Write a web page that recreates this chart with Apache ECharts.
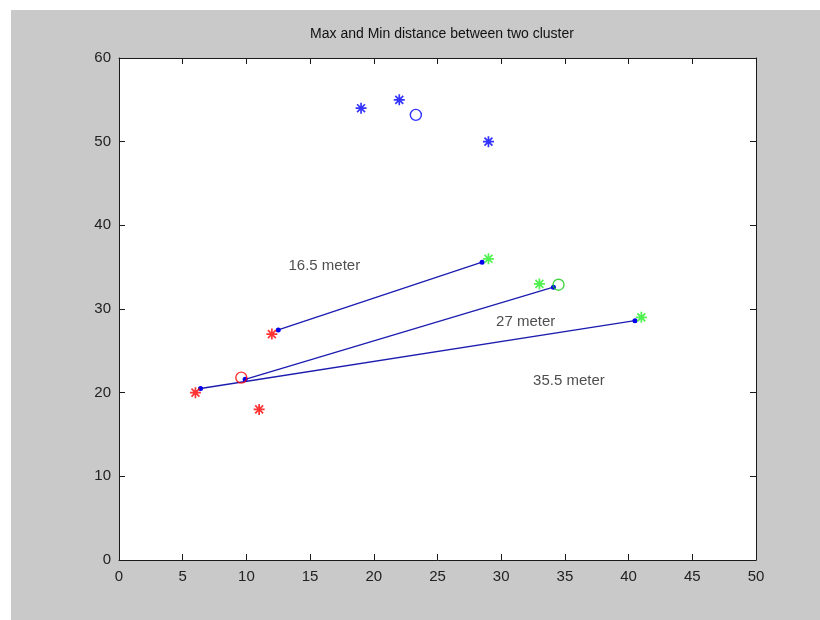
<!DOCTYPE html>
<html>
<head>
<meta charset="utf-8">
<script src="https://cdn.jsdelivr.net/npm/echarts@6/dist/echarts.min.js"></script>
<style>
  html, body { margin: 0; padding: 0; background: #ffffff; }
  #main { width: 820px; height: 620px; }
</style>
</head>
<body>
<div id="main"></div>
<script>
// cluster points
var blueStars = [[19, 54], [22, 55], [29, 50]];
var blueCentre = [[23.3, 53.2]];
var redStars = [[6, 20], [12, 27], [11, 18]];
var redCentre = [[9.6, 21.8]];
var greenStars = [[29, 36], [33, 33], [41, 29]];
var greenCentre = [[34.5, 32.9]];

// distance segments
var seg1 = [[12.5, 27.5], [28.5, 35.6]];
var seg2 = [[9.9, 21.6], [34.1, 32.6]];
var seg3 = [[6.4, 20.5], [40.5, 28.6]];

// text labels
var notes = [
  { value: [13.3, 35.1], text: '16.5 meter' },
  { value: [29.6, 28.5], text: '27 meter' },
  { value: [32.5, 21.4], text: '35.5 meter' }
];

var xTicks = [0, 50, 5];
var yTicks = [0, 60, 10];

var star = 'path://M0,-5L0,5M-5,0L5,0M-3.6,-3.6L3.6,3.6M-3.6,3.6L3.6,-3.6';
var fontFam = 'Liberation Sans, Arial, sans-serif';

var chart = echarts.init(document.getElementById('main'));

function starSeries(data, col) {
  return {
    type: 'scatter', data: data, symbol: star, symbolSize: 11,
    itemStyle: { color: 'transparent', borderColor: col, borderWidth: 1.7 },
    z: 5
  };
}
function ringSeries(data, col) {
  return {
    type: 'scatter', data: data, symbol: 'circle', symbolSize: 11,
    itemStyle: { color: 'transparent', borderColor: col, borderWidth: 1.4 },
    z: 5
  };
}
function segSeries(data) {
  return {
    type: 'line', data: data, symbol: 'circle', symbolSize: 5, showSymbol: true,
    lineStyle: { color: '#1c1cb0', width: 1.3 },
    itemStyle: { color: '#0000ee' },
    z: 4
  };
}

var axisCommon = {
  type: 'value',
  axisLine: { show: true, onZero: false, lineStyle: { color: '#1a1a1a', width: 1 } },
  axisTick: { show: true, inside: true, length: 6, lineStyle: { color: '#1a1a1a' } },
  splitLine: { show: false }
};

var option = {
  animation: false,
  backgroundColor: 'transparent',
  graphic: [{
    type: 'rect', left: 11, top: 10, z: -10,
    shape: { width: 809, height: 610 },
    style: { fill: '#c9c9c9' }
  }],
  title: {
    text: 'Max and Min distance between two cluster',
    left: 437, top: 22, textAlign: 'center',
    textStyle: { fontFamily: fontFam, fontSize: 14, fontWeight: 'normal', color: '#111' }
  },
  grid: { left: 119, right: 64, top: 58, bottom: 60, show: true, backgroundColor: '#ffffff', borderWidth: 0 },
  xAxis: [
    Object.assign({}, axisCommon, {
      min: xTicks[0], max: xTicks[1], interval: xTicks[2], position: 'bottom',
      axisLabel: { fontFamily: fontFam, fontSize: 15, color: '#222', margin: 9 }
    }),
    Object.assign({}, axisCommon, {
      min: xTicks[0], max: xTicks[1], interval: xTicks[2], position: 'top',
      axisLabel: { show: false }
    })
  ],
  yAxis: [
    Object.assign({}, axisCommon, {
      min: yTicks[0], max: yTicks[1], interval: yTicks[2], position: 'left',
      axisLabel: { fontFamily: fontFam, fontSize: 15, color: '#222', margin: 8 }
    }),
    Object.assign({}, axisCommon, {
      min: yTicks[0], max: yTicks[1], interval: yTicks[2], position: 'right',
      axisLabel: { show: false }
    })
  ],
  series: [
    segSeries(seg1),
    segSeries(seg2),
    segSeries(seg3),
    starSeries(blueStars, '#0000ff'),
    ringSeries(blueCentre, '#0000ff'),
    starSeries(redStars, '#ff0000'),
    ringSeries(redCentre, '#ff0000'),
    starSeries(greenStars, '#22ee22'),
    ringSeries(greenCentre, '#11cc11'),
    {
      type: 'scatter', symbolSize: 0,
      data: notes.map(function (n) { return { value: n.value, name: n.text }; }),
      label: {
        show: true, position: 'right', distance: 0,
        formatter: function (p) { return p.name; },
        fontFamily: fontFam, fontSize: 15, color: '#222'
      },
      z: 6
    }
  ]
};

chart.setOption(option);
</script>
</body>
</html>
